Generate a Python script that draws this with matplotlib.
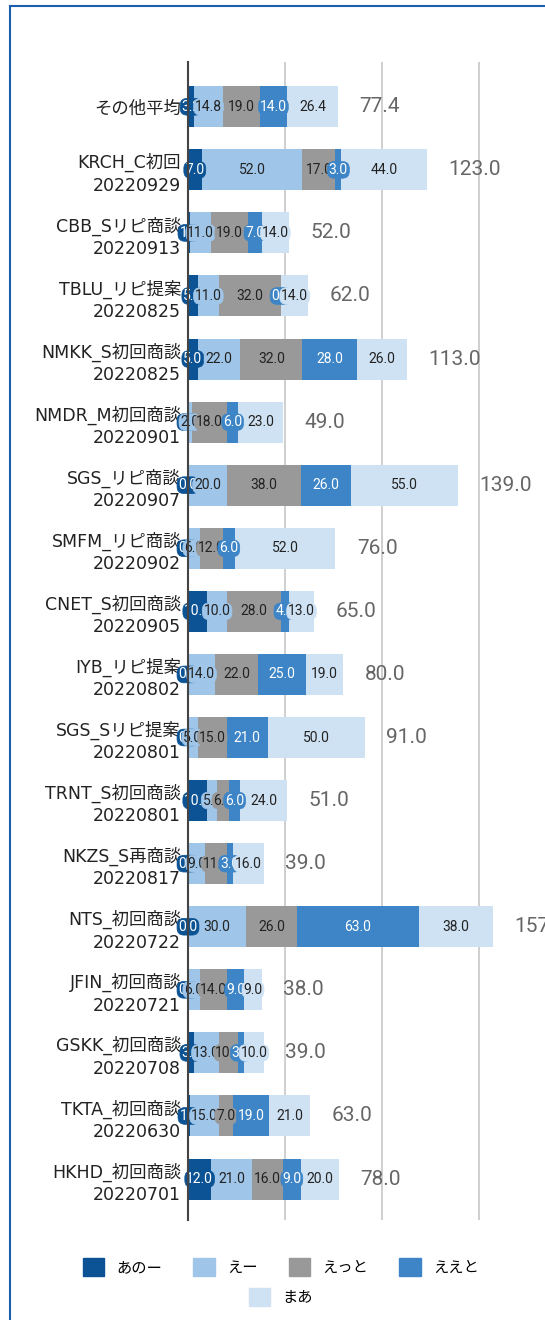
import matplotlib
matplotlib.use('Agg')
import matplotlib.pyplot as plt
from matplotlib.patches import Patch
import numpy as np

plt.rcParams['font.family'] = ['Roboto', 'Noto Sans CJK JP', 'DejaVu Sans']

# data
categories = [
    'その他平均',
    'KRCH_C初回\n20220929',
    'CBB_Sリピ商談\n20220913',
    'TBLU_リピ提案\n20220825',
    'NMKK_S初回商談\n20220825',
    'NMDR_M初回商談\n20220901',
    'SGS_リピ商談\n20220907',
    'SMFM_リピ商談\n20220902',
    'CNET_S初回商談\n20220905',
    'IYB_リピ提案\n20220802',
    'SGS_Sリピ提案\n20220801',
    'TRNT_S初回商談\n20220801',
    'NKZS_S再商談\n20220817',
    'NTS_初回商談\n20220722',
    'JFIN_初回商談\n20220721',
    'GSKK_初回商談\n20220708',
    'TKTA_初回商談\n20220630',
    'HKHD_初回商談\n20220701',
]
series_names = ['あのー', 'えー', 'えっと', 'ええと', 'まあ']
ano = [3.2, 7.0, 1.0, 5.0, 5.0, 0.0, 0.0, 0.0, 10.0, 0.0, 0.0, 10.0, 0.0, 0.0, 0.0, 3.0, 1.0, 12.0]
ee = [14.8, 52.0, 11.0, 11.0, 22.0, 2.0, 20.0, 6.0, 10.0, 14.0, 5.0, 5.0, 9.0, 30.0, 6.0, 13.0, 15.0, 21.0]
etto = [19.0, 17.0, 19.0, 32.0, 32.0, 18.0, 38.0, 12.0, 28.0, 22.0, 15.0, 6.0, 11.0, 26.0, 14.0, 10.0, 7.0, 16.0]
eeto = [14.0, 3.0, 7.0, 0.0, 28.0, 6.0, 26.0, 6.0, 4.0, 25.0, 21.0, 6.0, 3.0, 63.0, 9.0, 3.0, 19.0, 9.0]
maa = [26.4, 44.0, 14.0, 14.0, 26.0, 23.0, 55.0, 52.0, 13.0, 19.0, 50.0, 24.0, 16.0, 38.0, 9.0, 10.0, 21.0, 20.0]

colors = ['#0b5394', '#9fc5e8', '#999999', '#3d85c6', '#cfe2f3']
text_colors = ['white', '#222222', '#222222', 'white', '#222222']

series = [ano, ee, etto, eeto, maa]

fig = plt.figure(figsize=(5.45, 13.2), dpi=100)
ax = fig.add_axes([188 / 545, 1 - 1220 / 1320, 1 - 188 / 545, (1220 - 62) / 1320])

y = np.arange(len(categories))
left = np.zeros(len(categories))
for vals, name, c, tc in zip(series, series_names, colors, text_colors):
    vals = np.array(vals)
    ax.barh(y, vals, left=left, height=0.65, color=c, label=name, zorder=2)
    for yi, l, v in zip(y, left, vals):
        ax.text(l + v / 2, yi, f'{v:.1f}', ha='center', va='center', fontsize=10,
                color=tc, zorder=4,
                bbox=dict(boxstyle='round,pad=0.1,rounding_size=0.5', fc=c, ec=c, lw=0.5))
    left = left + vals

totals = left
for yi, t in zip(y, totals):
    ax.text(t + 11, yi, f'{t:.1f}', ha='left', va='center', fontsize=15,
            color='#666666', zorder=4)

ax.set_xlim(0, 184)
ax.set_ylim(len(categories) - 1 + 0.65, -0.71)
ax.set_xticks([50, 100, 150])
ax.set_xticklabels([])
ax.tick_params(axis='x', length=0)
ax.grid(axis='x', color='#cccccc', linewidth=1.3, zorder=0)
ax.set_axisbelow(True)
ax.set_yticks(y)
ax.set_yticklabels(categories, fontsize=12.5, linespacing=1.3, color='#222222',
                   family=['DejaVu Sans', 'Noto Sans CJK JP'])
ax.tick_params(axis='y', length=0, pad=5)
for s in ['top', 'right', 'bottom']:
    ax.spines[s].set_visible(False)
ax.spines['left'].set_color('#444444')
ax.spines['left'].set_linewidth(1.5)
ax.spines['left'].set_zorder(5)

handles = [Patch(facecolor=c, edgecolor=c, label=n) for c, n in zip(colors, series_names)]
fig.legend(handles[:4], series_names[:4], loc='center', bbox_to_anchor=(0.515, 1 - 1267 / 1320),
           ncol=4, frameon=False, fontsize=11, handlelength=1.4, handleheight=1.4,
           handletextpad=0.8, columnspacing=2.05)
fig.legend(handles[4:], series_names[4:], loc='center', bbox_to_anchor=(0.515, 1 - 1297 / 1320),
           ncol=1, frameon=False, fontsize=11, handlelength=1.4, handleheight=1.4,
           handletextpad=0.8)

# selection border
fig.add_artist(plt.Line2D([10 / 545, 10 / 545], [0, 1 - 6 / 1320], color='#1c5fb0', lw=1.5,
                          transform=fig.transFigure))
fig.add_artist(plt.Line2D([10 / 545, 1], [1 - 6 / 1320, 1 - 6 / 1320], color='#1c5fb0', lw=1.5,
                          transform=fig.transFigure))

fig.savefig('out.png', dpi=100)
